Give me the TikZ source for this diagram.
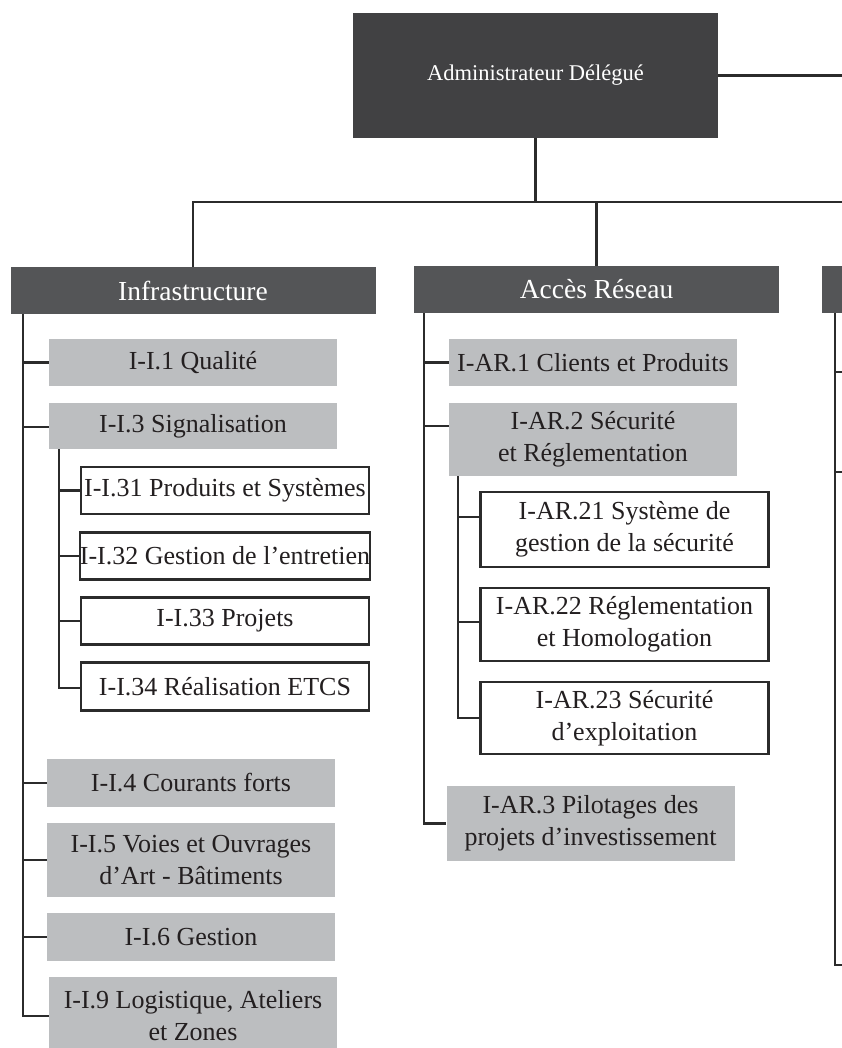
\documentclass[tikz,border=0pt]{standalone}
\usepackage{fontspec}
\setmainfont{Liberation Serif}
\definecolor{topdark}{HTML}{414143}
\definecolor{hdark}{HTML}{545557}
\definecolor{boxgray}{HTML}{BCBEC0}
\definecolor{lnc}{HTML}{2B2B2B}
\definecolor{txt}{HTML}{231F20}
\tikzset{
  topbox/.style={fill=topdark, text=white, minimum width=365pt, minimum height=125pt, inner sep=0pt, font=\fontsize{22.5}{27}\selectfont},
  headbox/.style={fill=hdark, text=white, minimum width=365pt, minimum height=47pt, inner sep=0pt, font=\fontsize{27.5}{33}\selectfont},
  graybox/.style={fill=boxgray, text=txt, minimum width=288pt, inner sep=0pt, align=center, font=\fontsize{26}{32}\selectfont},
  whitebox/.style={draw=lnc, line width=2.2pt, fill=white, text=txt, minimum width=288pt, inner sep=0pt, align=center, font=\fontsize{26}{32}\selectfont},
  conn/.style={draw=lnc, line width=2.3pt}
}
\begin{document}
\begin{tikzpicture}[x=1pt,y=-1pt]
\useasboundingbox (0,0) rectangle (842,1048);
\clip (0,0) rectangle (842,1048);

% top
\node[topbox] (top) at (535.5,75.5) {Administrateur Délégué};
% headers
\node[headbox] (infra) at (193,290.5) {Infrastructure};
\node[headbox] (acces) at (596.5,289.5) {Accès Réseau};
\node[headbox] (third) at (1004.5,289.5) {};

% coordinates
\coordinate (topR) at (850,75.5);
\coordinate (busR) at (850,202);
\coordinate (spL) at ([xshift=13pt]infra.south west);
\coordinate (spM) at ([xshift=10pt]acces.south west);
\coordinate (spR) at ([xshift=13pt]third.south west);
\coordinate (r1) at (850,372);
\coordinate (r2) at (850,472);
\coordinate (r3) at (850,965);

% left column boxes
\node[graybox, minimum height=47pt] (q1) at (193,362.5) {I-I.1 Qualité};
\node[graybox, minimum height=46pt] (s3) at (193,426) {I-I.3 Signalisation};
\node[whitebox, minimum height=47pt] (w31) at (225,490.5) {I-I.31 Produits et Systèmes};
\node[whitebox, minimum height=47pt] (w32) at (225,556) {I-I.32 Gestion de l’entretien};
\node[whitebox, minimum height=47pt] (w33) at (225,621) {I-I.33 Projets};
\node[whitebox, minimum height=48pt] (w34) at (225,686.5) {I-I.34 Réalisation ETCS};
\node[graybox, minimum height=48pt] (c4) at (191,783) {I-I.4 Courants forts};
\node[graybox, minimum height=74pt] (v5) at (191,860) {I-I.5 Voies et Ouvrages\\d’Art - Bâtiments};
\node[graybox, minimum height=48pt] (g6) at (191,937) {I-I.6 Gestion};
\node[graybox, minimum height=78pt] (l9) at (193,1016) {I-I.9 Logistique, Ateliers\\et Zones};
\coordinate (subL) at ([xshift=10pt]s3.south west);

% middle column boxes
\node[graybox, minimum height=47pt] (ar1) at (593,362.5) {I-AR.1 Clients et Produits};
\node[graybox, minimum height=73pt] (ar2) at (593,439.5) {I-AR.2 Sécurité\\et Réglementation};
\node[whitebox, minimum height=75pt] (ar21) at (624.5,529.5) {I-AR.21 Système de\\gestion de la sécurité};
\node[whitebox, minimum height=73pt] (ar22) at (624.5,624.5) {I-AR.22 Réglementation\\et Homologation};
\node[whitebox, minimum height=72pt] (ar23) at (624.5,718) {I-AR.23 Sécurité\\d’exploitation};
\node[graybox, minimum height=75pt] (ar3) at (590.5,823.5) {I-AR.3 Pilotages des\\projets d’investissement};
\coordinate (subM) at ([xshift=9pt]ar2.south west);

% top connectors
\draw[conn] (top.east) -- (topR);
\draw[conn] (top.south) -- (top.south |- busR);
\draw[conn] (infra.north) |- (busR);
\draw[conn] (acces.north) -- (acces.north |- busR);

% left column connectors
\draw[conn] (spL) |- (q1.west);
\draw[conn] (spL) |- ([yshift=-1pt]s3.west);
\draw[conn] (spL) |- (c4.west);
\draw[conn] (spL) |- (v5.west);
\draw[conn] (spL) |- (g6.west);
\draw[conn] (spL) |- (l9.west);
\draw[conn] (subL) |- (w31.west);
\draw[conn] (subL) |- (w32.west);
\draw[conn] (subL) |- (w33.west);
\draw[conn] (subL) |- ([yshift=-1.5pt]w34.west);

% middle column connectors
\draw[conn] (spM) |- (ar1.west);
\draw[conn] (spM) |- ([yshift=13.5pt]ar2.west);
\draw[conn] (spM) |- (ar3.west);
\draw[conn] (subM) |- ([yshift=12.5pt]ar21.west);
\draw[conn] (subM) |- ([yshift=2.5pt]ar22.west);
\draw[conn] (subM) |- (ar23.west);

% right column (partial)
\draw[conn] (spR) |- (r3);
\draw[conn] (spR |- r1) -- (r1);
\draw[conn] (spR |- r2) -- (r2);
\end{tikzpicture}
\end{document}
